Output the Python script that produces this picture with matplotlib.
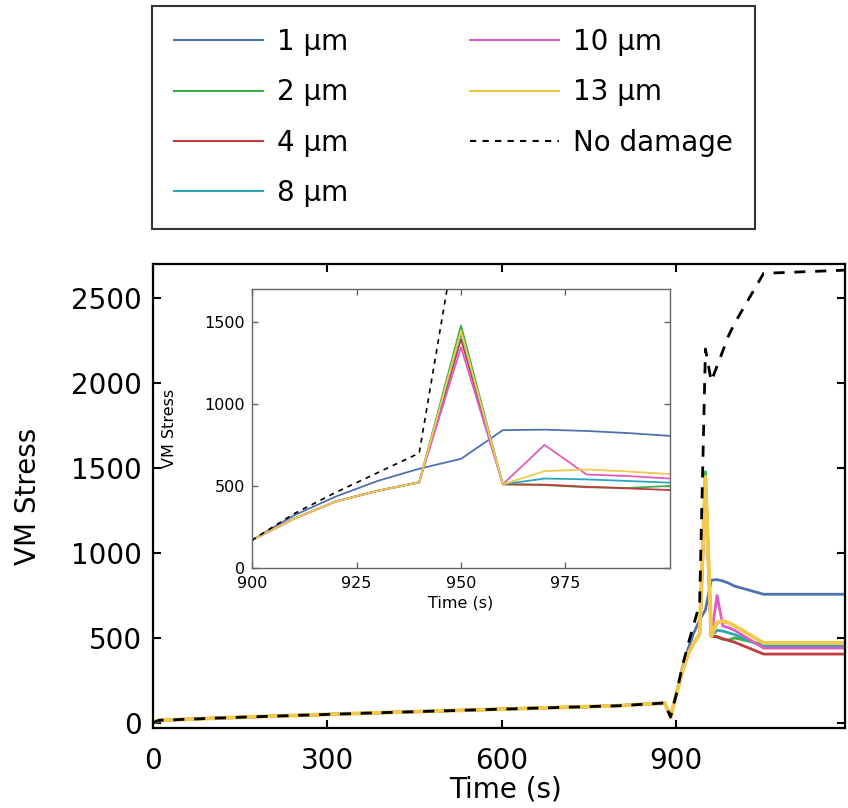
import matplotlib
matplotlib.use("Agg")
import matplotlib.pyplot as plt

plt.rcParams["font.family"] = ["DejaVu Sans"]

W, H = 848, 808

# Time axis shared by every curve (s)
time_s = [0, 10, 100, 200, 300, 400, 500, 600, 700, 800, 880, 890,
          900, 910, 920, 930, 940, 950, 960, 970, 980, 990, 1000, 1050, 1200]

# VM stress per crack size
stress_1um = [0, 15, 27, 39, 50, 61, 71, 81, 91, 101, 117, 35,
              170, 320, 435, 530, 605, 665, 840, 843, 835, 822, 805, 757, 757]
stress_2um = [0, 15, 27, 39, 50, 61, 71, 81, 91, 101, 117, 35,
              170, 300, 405, 470, 522, 1478, 510, 505, 492, 488, 500, 460, 460]
stress_4um = [0, 15, 27, 39, 50, 61, 71, 81, 91, 101, 117, 35,
              170, 300, 405, 470, 522, 1395, 510, 508, 495, 485, 475, 405, 405]
stress_8um = [0, 15, 27, 39, 50, 61, 71, 81, 91, 101, 117, 35,
              170, 300, 405, 470, 522, 1430, 510, 545, 540, 530, 520, 450, 450]
stress_10um = [0, 15, 27, 39, 50, 61, 71, 81, 91, 101, 117, 35,
               170, 300, 405, 470, 522, 1345, 510, 750, 570, 560, 545, 440, 440]
stress_13um = [0, 15, 27, 39, 50, 61, 71, 81, 91, 101, 117, 35,
               170, 300, 405, 470, 522, 1445, 510, 590, 600, 588, 572, 470, 470]
stress_nodamage = [0, 15, 27, 39, 50, 61, 71, 81, 91, 101, 117, 35,
                   170, 330, 460, 580, 700, 2200, 2010, 2100, 2190, 2280, 2350, 2645, 2665]

labels = ["1 μm", "2 μm", "4 μm", "8 μm", "10 μm", "13 μm"]
series = [stress_1um, stress_2um, stress_4um, stress_8um, stress_10um, stress_13um]
colors = ["#4C72B0", "#3FAE49", "#C03B3B", "#2AA8B8", "#E05CC0", "#F2C94C"]

main_xticks = [0, 300, 600, 900]
main_yticks = [0, 500, 1000, 1500, 2000, 2500]
inset_xticks = [900, 925, 950, 975]
inset_yticks = [0, 500, 1000, 1500]

fig = plt.figure(figsize=(W / 100, H / 100), dpi=100)

# main axes
ax = fig.add_axes([153 / W, 1 - 728 / H, (845 - 153) / W, (728 - 264) / H])
for s, c in zip(series, colors):
    lw = 2.8 if c == colors[-1] else 2.0
    ax.plot(time_s, s, color=c, lw=lw, zorder=2)
ax.plot(time_s, stress_nodamage, color="black", lw=2.0, ls=(0, (4, 3.5)), zorder=3)
ax.set_xlim(0, 1190)
ax.set_ylim(-30, 2700)
ax.set_xticks(main_xticks)
ax.set_yticks(main_yticks)
ax.tick_params(direction="in", top=True, right=True, length=6, width=1.5,
               labelsize=20)
ax.tick_params(axis="x", pad=14)
ax.tick_params(axis="y", pad=8)
for sp in ax.spines.values():
    sp.set_linewidth(1.6)
ax.set_xlabel("Time (s)", fontsize=20)
ax.set_ylabel("VM Stress", fontsize=20)
ax.xaxis.set_label_coords(0.51, -0.103)
ax.yaxis.set_label_coords(-0.16, 0.5)

# inset
ins = fig.add_axes([252 / W, 1 - 568 / H, (670 - 252) / W, (568 - 289) / H])
for s, c in zip(series, colors):
    ins.plot(time_s, s, color=c, lw=1.3)
ins.plot(time_s, stress_nodamage, color="black", lw=1.2, ls=(0, (3, 3)))
ins.set_xlim(900, 1000)
ins.set_ylim(0, 1700)
ins.set_xticks(inset_xticks)
ins.set_yticks(inset_yticks)
ins.tick_params(direction="in", top=True, right=True, length=4, width=1,
                color="#666666", labelsize=11.5, pad=5)
ins.tick_params(axis="x", pad=6)
for sp in ins.spines.values():
    sp.set_linewidth(1.0)
    sp.set_color("#666666")
ins.set_xlabel("Time (s)", fontsize=11.5, labelpad=3)
ins.set_ylabel("VM Stress", fontsize=11.5)
ins.yaxis.set_label_coords(-0.18, 0.5)

# legend at the top of the figure
handles = ax.get_lines()
leg = fig.legend(handles, labels + ["No damage"], ncol=2, loc="upper left",
                 bbox_to_anchor=(152 / W, 1 - 6 / H), bbox_transform=fig.transFigure,
                 borderaxespad=0, frameon=True, fancybox=False, edgecolor="black",
                 fontsize=20, handlelength=3.2, handletextpad=0.5,
                 columnspacing=4.4, labelspacing=0.8, borderpad=0.8)
leg.get_frame().set_linewidth(1.5)
for ln in leg.get_lines():
    ln.set_linewidth(1.5)
leg.get_lines()[-1].set_dashes((3, 3))

fig.savefig("out.png", dpi=100)
